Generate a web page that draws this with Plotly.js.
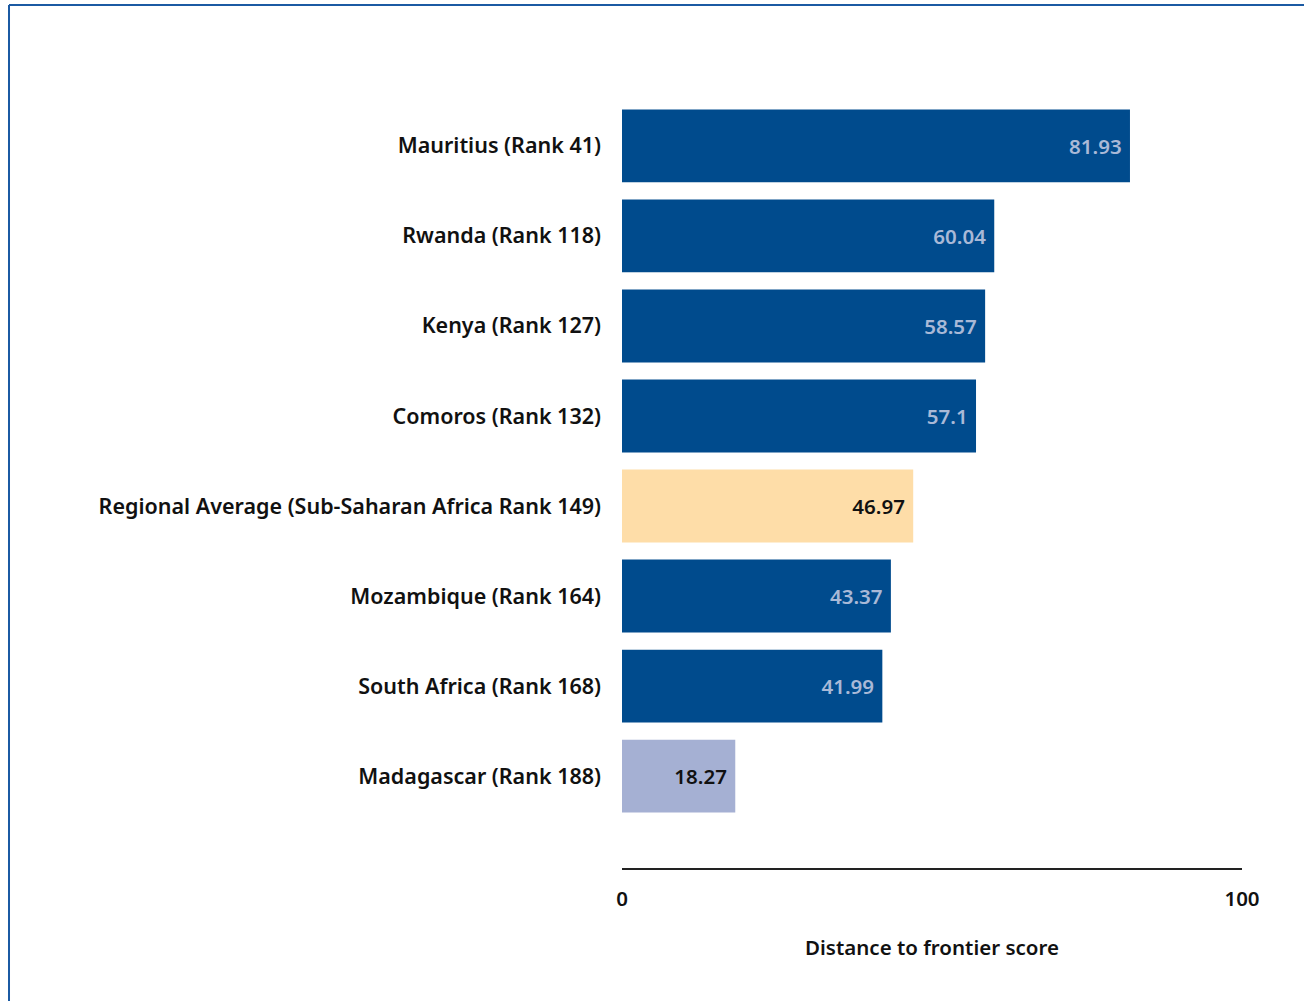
<!DOCTYPE html>
<html>
<head>
<meta charset="utf-8">
<script src="https://cdn.plot.ly/plotly-3.0.1.min.js"></script>
<style>html,body{margin:0;padding:0;background:#fff;}#chart{width:1304px;height:1001px;}</style>
</head>
<body>
<div id="chart"></div>
<script>
const categories = [
  "Mauritius (Rank 41)",
  "Rwanda (Rank 118)",
  "Kenya (Rank 127)",
  "Comoros (Rank 132)",
  "Regional Average (Sub-Saharan Africa Rank 149)",
  "Mozambique (Rank 164)",
  "South Africa (Rank 168)",
  "Madagascar (Rank 188)"
];
const scores = [81.93, 60.04, 58.57, 57.1, 46.97, 43.37, 41.99, 18.27];
const scoreLabels = ["81.93", "60.04", "58.57", "57.1", "46.97", "43.37", "41.99", "18.27"];
const barColors = ["#004b8d", "#004b8d", "#004b8d", "#004b8d", "#fedda8", "#004b8d", "#004b8d", "#a5b0d3"];
const labelColors = ["#a9b9d7", "#a9b9d7", "#a9b9d7", "#a9b9d7", "#111111", "#a9b9d7", "#a9b9d7", "#111111"];
const xTicks = [0, 100];
const xTitle = "Distance to frontier score";

const FONT = "'Noto Sans', 'Open Sans', sans-serif";
const FS = 21.5;

const trace = {
  type: "bar",
  orientation: "h",
  x: scores,
  y: categories,
  text: scoreLabels,
  texttemplate: "%{text}&nbsp;",
  textposition: "inside",
  insidetextanchor: "end",
  textfont: {family: FONT, size: 20.5, color: labelColors, weight: 600},
  marker: {color: barColors, line: {width: 0}},
  width: 0.81,
  hoverinfo: "x+y",
  cliponaxis: false
};

const layout = {
  width: 1304,
  height: 1001,
  margin: {l: 622, r: 62, t: 54, b: 133},
  paper_bgcolor: "#ffffff",
  plot_bgcolor: "#ffffff",
  showlegend: false,
  font: {family: FONT, size: FS, color: "#111111", weight: 600},
  xaxis: {
    range: [0, 100],
    tickvals: xTicks,
    ticktext: xTicks.map(String),
    showgrid: false,
    zeroline: false,
    showline: true,
    linecolor: "#222222",
    linewidth: 2,
    ticks: "",
    ticklabelstandoff: 11,
    tickfont: {family: FONT, size: 20.5, color: "#111111", weight: 600},
    title: {text: xTitle, standoff: 30, font: {family: FONT, size: 20.5, color: "#111111", weight: 600}},
    fixedrange: true
  },
  yaxis: {
    type: "category",
    categoryorder: "array",
    categoryarray: categories,
    range: [8.02, -1.02],
    showgrid: false,
    zeroline: false,
    showline: false,
    ticks: "",
    ticklabelstandoff: 20,
    tickfont: {family: FONT, size: FS, color: "#111111", weight: 600},
    fixedrange: true
  },
  uniformtext: {mode: false},
  shapes: [
    {type: "line", xref: "paper", yref: "paper", x0: -0.9887, x1: 2, y0: 1.0602, y1: 1.0602, line: {color: "#1b5aa3", width: 2}},
    {type: "line", xref: "paper", yref: "paper", x0: -0.9887, x1: -0.9887, y0: -2, y1: 1.0602, line: {color: "#1b5aa3", width: 2}}
  ]
};

Plotly.newPlot("chart", [trace], layout, {displayModeBar: false, staticPlot: true});
</script>
</body>
</html>
